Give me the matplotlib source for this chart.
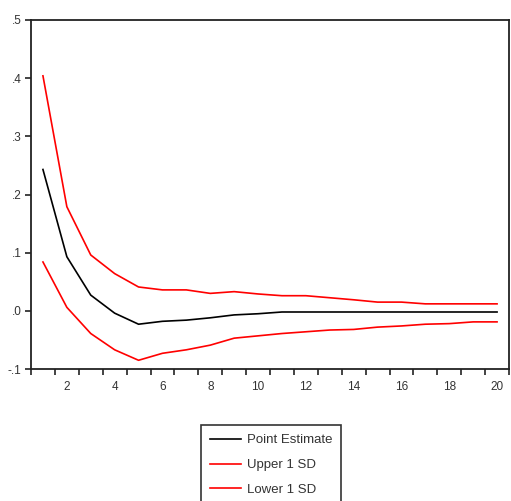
import matplotlib
matplotlib.use("Agg")
import matplotlib.pyplot as plt
import numpy as np
from matplotlib.ticker import FixedLocator, FixedFormatter

periods = list(range(1, 21))
point_estimate = [0.243, 0.093, 0.027, -0.004, -0.023, -0.018, -0.016, -0.012, -0.007, -0.005,
                  -0.002, -0.002, -0.002, -0.002, -0.002, -0.002, -0.002, -0.002, -0.002, -0.002]
upper_1sd = [0.404, 0.179, 0.096, 0.064, 0.041, 0.036, 0.036, 0.030, 0.033, 0.029,
             0.026, 0.026, 0.0225, 0.019, 0.015, 0.015, 0.012, 0.012, 0.012, 0.012]
lower_1sd = [0.084, 0.006, -0.039, -0.067, -0.085, -0.073, -0.067, -0.059, -0.047, -0.043,
             -0.039, -0.036, -0.033, -0.032, -0.028, -0.026, -0.023, -0.022, -0.019, -0.019]
series_labels = ["Point Estimate", "Upper 1 SD", "Lower 1 SD"]
y_ticks = [-0.1, 0.0, 0.1, 0.2, 0.3, 0.4, 0.5]
y_tick_labels = ["-.1", ".0", ".1", ".2", ".3", ".4", ".5"]
x_ticks = [2, 4, 6, 8, 10, 12, 14, 16, 18, 20]

plt.rcParams['font.family'] = ['Liberation Sans Narrow', 'Liberation Sans', 'DejaVu Sans']

W, H = 511, 501
fig = plt.figure(figsize=(W / 100, H / 100), dpi=100)
ax = fig.add_axes([31 / W, 1 - 369 / H, (509 - 31) / W, (369 - 20) / H])

ax.plot(periods, point_estimate, color="black", lw=1.2, label=series_labels[0])
ax.plot(periods, upper_1sd, color="#ff0000", lw=1.2, label=series_labels[1])
ax.plot(periods, lower_1sd, color="#ff0000", lw=1.2, label=series_labels[2])

ax.set_xlim(0.5, 20.5)
ax.set_ylim(-0.1, 0.5)

ax.xaxis.set_major_locator(FixedLocator(x_ticks))
ax.xaxis.set_major_formatter(FixedFormatter([str(t) for t in x_ticks]))
ax.xaxis.set_minor_locator(FixedLocator(np.arange(0.5, 21, 1.0)))
ax.tick_params(axis='x', which='major', length=0, pad=9, labelsize=8.5, labelcolor="#333333")
ax.tick_params(axis='x', which='minor', length=4, width=1.2, direction='out', color="#222222")

ax.yaxis.set_major_locator(FixedLocator(y_ticks))
ax.yaxis.set_major_formatter(FixedFormatter(y_tick_labels))
ax.tick_params(axis='y', which='major', length=4, width=1.2, direction='out', pad=3,
               labelsize=8.5, labelcolor="#333333", color="#222222")

for s in ax.spines.values():
    s.set_linewidth(1.3)
    s.set_color("#222222")

leg = fig.legend(loc='upper center', bbox_to_anchor=(271 / W, 1 - 425 / H),
                 fontsize=9.5, frameon=True, fancybox=False, edgecolor="black",
                 handlelength=2.33, handletextpad=0.45, labelspacing=0.95,
                 borderpad=0.7, borderaxespad=0)
leg.get_frame().set_linewidth(1.2)
for t in leg.get_texts():
    t.set_color("#333333")

fig.savefig("out.png", dpi=100)
